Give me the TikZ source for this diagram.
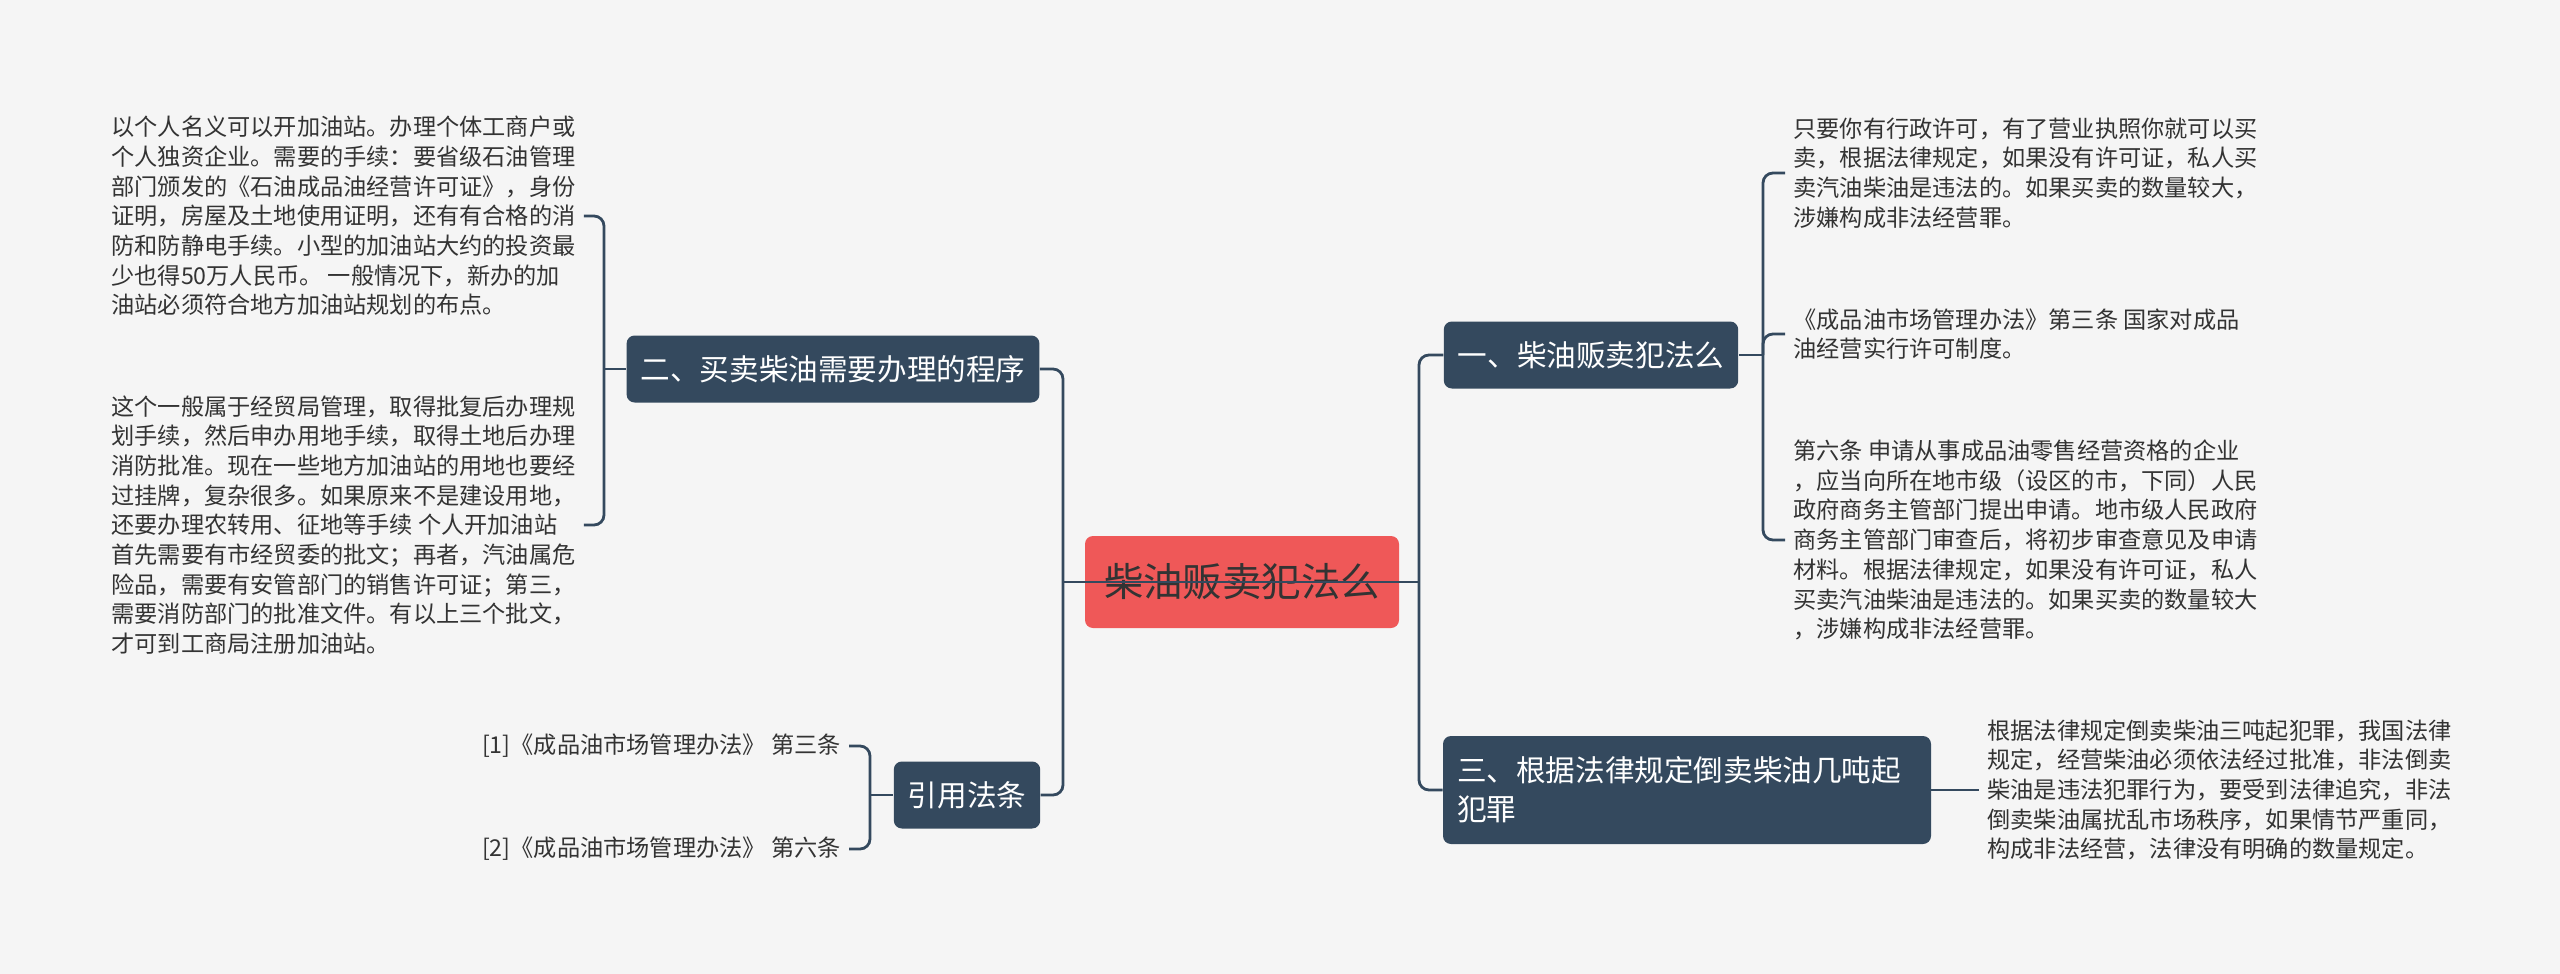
\documentclass[tikz,border=0pt]{standalone}
\usepackage{fontspec}
\setmainfont{Noto Sans CJK SC}
\usetikzlibrary{positioning}
\definecolor{bgcol}{RGB}{245,245,245}
\definecolor{nodeblue}{RGB}{52,73,94}
\definecolor{topicred}{RGB}{239,88,88}
\definecolor{textgray}{RGB}{51,51,51}
\tikzset{topicbox/.style = {fill=topicred, rounded corners=4pt, text=textgray,
                            font=\fontsize{19.7pt}{24pt}\selectfont,
                            minimum width=157pt, minimum height=46pt},
         branchbox/.style = {fill=nodeblue, rounded corners=4pt, text=white,
                             font=\fontsize{14.8pt}{19.5pt}\selectfont,
                             inner xsep=7pt, minimum height=33.5pt},
         leaftext/.style = {text=textgray, font=\fontsize{11.6pt}{14.85pt}\selectfont,
                            align=left, inner xsep=4pt, inner ysep=2pt},
         link/.style = {draw=nodeblue, line width=1.4pt, rounded corners=5pt}}

\begin{document}
\begin{tikzpicture}[x=0.5pt, y=-0.5pt]
      \useasboundingbox[fill=bgcol] (0,0) rectangle (2560,974);

      \node [topicbox] (topic) at (1242,582) {柴油贩卖犯法么};

      \node [branchbox] (b2) at (833,369) {二、买卖柴油需要办理的程序};
      \node [branchbox] (b4) at (967,795) {引用法条};
      \node [branchbox] (b1) at (1591,355) {一、柴油贩卖犯法么};
      \node [branchbox, text width=230pt, align=left, minimum height=54pt] (b3) at (1687,790)
            {三、根据法律规定倒卖柴油几吨起\\犯罪};

      % left leaves
      \node [leaftext, anchor=west] (l1) at (103,216) {以个人名义可以开加油站。办理个体工商户或\\
            个人独资企业。需要的手续：要省级石油管理\\
            部门颁发的《石油成品油经营许可证》，身份\\
            证明，房屋及土地使用证明，还有有合格的消\\
            防和防静电手续。小型的加油站大约的投资最\\
            少也得50万人民币。 一般情况下，新办的加\\
            油站必须符合地方加油站规划的布点。};
      \node [leaftext, anchor=west] (l2) at (103,525) {这个一般属于经贸局管理，取得批复后办理规\\
            划手续，然后申办用地手续，取得土地后办理\\
            消防批准。现在一些地方加油站的用地也要经\\
            过挂牌，复杂很多。如果原来不是建设用地，\\
            还要办理农转用、征地等手续 个人开加油站\\
            首先需要有市经贸委的批文；再者，汽油属危\\
            险品，需要有安管部门的销售许可证；第三，\\
            需要消防部门的批准文件。有以上三个批文，\\
            才可到工商局注册加油站。};
      \node [leaftext, anchor=east] (c1) at (849,746) {[1]《成品油市场管理办法》 第三条};
      \node [leaftext, anchor=east] (c2) at (849,849) {[2]《成品油市场管理办法》 第六条};

      % right leaves
      \node [leaftext, anchor=west] (r1) at (1785,173) {只要你有行政许可，有了营业执照你就可以买\\
            卖，根据法律规定，如果没有许可证，私人买\\
            卖汽油柴油是违法的。如果买卖的数量较大，\\
            涉嫌构成非法经营罪。};
      \node [leaftext, anchor=west] (r2) at (1785,334) {《成品油市场管理办法》第三条 国家对成品\\
            油经营实行许可制度。};
      \node [leaftext, anchor=west] (r3) at (1785,540) {第六条 申请从事成品油零售经营资格的企业\\
            ，应当向所在地市级（设区的市，下同）人民\\
            政府商务主管部门提出申请。地市级人民政府\\
            商务主管部门审查后，将初步审查意见及申请\\
            材料。根据法律规定，如果没有许可证，私人\\
            买卖汽油柴油是违法的。如果买卖的数量较大\\
            ，涉嫌构成非法经营罪。};
      \node [leaftext, anchor=west] (r4) at (1979,790) {根据法律规定倒卖柴油三吨起犯罪，我国法律\\
            规定，经营柴油必须依法经过批准，非法倒卖\\
            柴油是违法犯罪行为，要受到法律追究，非法\\
            倒卖柴油属扰乱市场秩序，如果情节严重同，\\
            构成非法经营，法律没有明确的数量规定。};

      % connectors
      \coordinate (lj) at (1063,582);
      \coordinate (rj) at (1419,582);
      \draw [link] (lj) -- (rj);
      \draw [link] (b2.east) -| (lj) |- (b4.east);
      \draw [link] (b1.west) -| (rj) |- (b3.west);

      \coordinate (lb2) at (604,369);
      \draw [link] (l1.east) -| (lb2) |- (l2.east);
      \draw [link] (lb2) -- (b2.west);

      \coordinate (lb4) at (870,795);
      \draw [link] (c1.east) -| (lb4) |- (c2.east);
      \draw [link] (lb4) -- (b4.west);

      \coordinate (rb1) at (1763,355);
      \draw [link] (r1.west) -| (rb1) |- (r3.west);
      \draw [link] (rb1) |- (r2.west);
      \draw [link] (rb1) -- (b1.east);
      \draw [link] (b3.east) -- (r4.west);
    \end{tikzpicture}
\end{document}
